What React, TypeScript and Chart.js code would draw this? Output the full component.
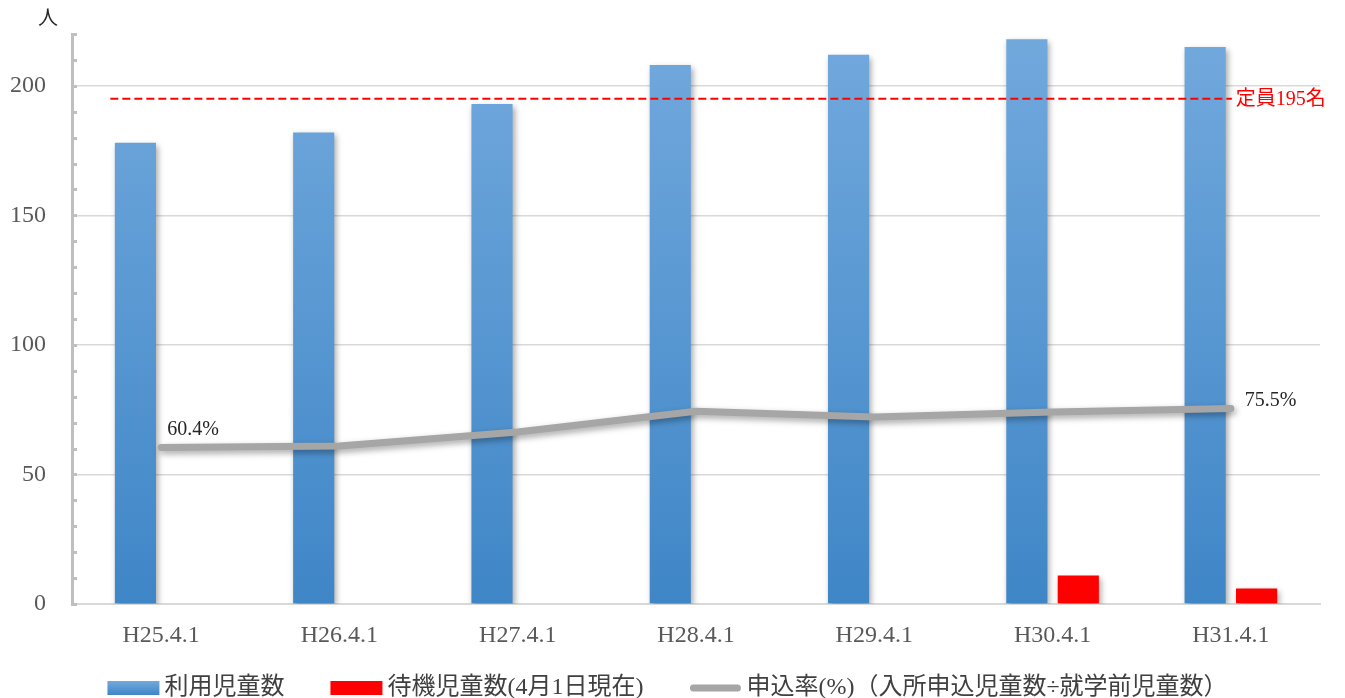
import React, { useEffect, useRef } from 'react';
import { Chart, registerables } from 'chart.js';

Chart.register(...registerables);

const categories = ['H25.4.1', 'H26.4.1', 'H27.4.1', 'H28.4.1', 'H29.4.1', 'H30.4.1', 'H31.4.1'];
const usedChildren = [178, 182, 193, 208, 212, 218, 215];
const waitingChildren = [null, null, null, null, null, 11, 6];
const applicationRate = [60.4, 61.0, 66.4, 74.4, 72.2, 74.1, 75.5];
const seriesNames = ['利用児童数', '待機児童数(4月1日現在)', '申込率(%)（入所申込児童数÷就学前児童数）'];
const rateLabels = ['60.4%', '', '', '', '', '', '75.5%'];
const capacityValue = 195;
const capacityLabel = '定員195名';
const yUnit = '人';
const yMax = 220;
const yStep = 10;
const yLabelStep = 50;

const FONT = "'Liberation Serif', 'Noto Sans CJK JP', serif";
const BLUE_TOP = '#72a9dd';
const BLUE_BOTTOM = '#3f86c7';
const RED = '#ff0000';
const GREY_LINE = '#a6a6a6';

function blueGradient(ctx: CanvasRenderingContext2D, top: number, bottom: number) {
  const g = ctx.createLinearGradient(0, top, 0, bottom);
  g.addColorStop(0, BLUE_TOP);
  g.addColorStop(1, BLUE_BOTTOM);
  return g;
}

const shadowPlugin = {
  id: 'shadows',
  beforeDatasetDraw(chart: any) {
    const ctx = chart.ctx;
    ctx.save();
    ctx.shadowColor = 'rgba(0,0,0,0.35)';
    ctx.shadowBlur = 6;
    ctx.shadowOffsetX = 2;
    ctx.shadowOffsetY = 3;
  },
  afterDatasetDraw(chart: any) {
    chart.ctx.restore();
  },
};

const extrasPlugin = {
  id: 'extras',
  afterDraw(chart: any) {
    const ctx = chart.ctx as CanvasRenderingContext2D;
    const area = chart.chartArea;
    const x = chart.scales.x;
    const y = chart.scales.y;

    // minor tick marks on the y axis
    ctx.save();
    ctx.strokeStyle = '#bfbfbf';
    ctx.lineWidth = 3;
    for (const t of y.ticks) {
      const py = Math.round(y.getPixelForValue(t.value)) + 0.5;
      ctx.beginPath();
      ctx.moveTo(area.left - 1, py);
      ctx.lineTo(area.left + 5, py);
      ctx.stroke();
    }
    ctx.restore();

    // unit label
    ctx.save();
    ctx.font = `20px ${FONT}`;
    ctx.fillStyle = '#262626';
    ctx.textAlign = 'center';
    ctx.textBaseline = 'middle';
    ctx.fillText(yUnit, area.left - 24, area.top - 14);
    ctx.restore();

    // capacity dashed line
    const catW = (x.getPixelForValue(1) - x.getPixelForValue(0));
    const py = y.getPixelForValue(capacityValue);
    const x0 = x.getPixelForValue(0) - catW * 0.285;
    const x1 = x.getPixelForValue(categories.length - 1) + 1;
    ctx.save();
    ctx.strokeStyle = RED;
    ctx.lineWidth = 2;
    ctx.setLineDash([8, 4]);
    ctx.beginPath();
    ctx.moveTo(x0, py);
    ctx.lineTo(x1, py);
    ctx.stroke();
    ctx.setLineDash([]);
    ctx.font = `20px ${FONT}`;
    ctx.fillStyle = RED;
    ctx.textAlign = 'left';
    ctx.textBaseline = 'middle';
    ctx.fillText(capacityLabel, x1 + 4, py + 1);
    ctx.restore();

    // rate labels
    const lineMeta = chart.getDatasetMeta(0);
    ctx.save();
    ctx.font = `20px ${FONT}`;
    ctx.fillStyle = '#262626';
    ctx.textBaseline = 'middle';
    ctx.textAlign = 'left';
    rateLabels.forEach((lbl, i) => {
      if (!lbl) return;
      const p = lineMeta.data[i];
      if (i === 0) ctx.fillText(lbl, p.x + 6, p.y - 18);
      else ctx.fillText(lbl, p.x + 14, p.y - 8);
    });
    ctx.restore();

    // legend
    ctx.save();
    ctx.font = `24px ${FONT}`;
    const boxW = 52;
    const gapBoxText = 5;
    const itemGap = 46;
    const widths = seriesNames.map((n) => boxW + gapBoxText + ctx.measureText(n).width);
    const total = widths.reduce((a, b) => a + b, 0) + itemGap * (widths.length - 1);
    let cx = chart.width / 2 - total / 2 - 5;
    const cy = 688;
    seriesNames.forEach((name, i) => {
      if (i === 0) {
        ctx.fillStyle = blueGradient(ctx, cy - 7, cy + 7);
        ctx.fillRect(cx, cy - 7, boxW, 14);
      } else if (i === 1) {
        ctx.fillStyle = RED;
        ctx.fillRect(cx, cy - 7, boxW, 14);
      } else {
        ctx.strokeStyle = GREY_LINE;
        ctx.lineWidth = 7;
        ctx.lineCap = 'round';
        ctx.beginPath();
        ctx.moveTo(cx + 4, cy);
        ctx.lineTo(cx + boxW - 4, cy);
        ctx.stroke();
      }
      ctx.fillStyle = '#404040';
      ctx.textAlign = 'left';
      ctx.textBaseline = 'middle';
      ctx.fillText(name, cx + boxW + gapBoxText, cy);
      cx += widths[i] + itemGap;
    });
    ctx.restore();
  },
};

export default function App() {
  const ref = useRef<HTMLCanvasElement | null>(null);

  useEffect(() => {
    if (!ref.current) return;
    const chart = new Chart(ref.current, {
      type: 'bar',
      data: {
        labels: categories,
        datasets: [
          {
            type: 'line',
            label: seriesNames[2],
            data: applicationRate,
            borderColor: GREY_LINE,
            backgroundColor: GREY_LINE,
            borderWidth: 7,
            borderCapStyle: 'round',
            borderJoinStyle: 'round',
            pointRadius: 0,
            tension: 0,
            order: 0,
          } as any,
          {
            type: 'bar',
            label: seriesNames[0],
            data: usedChildren,
            backgroundColor: (c: any) => {
              const a = c.chart.chartArea;
              if (!a) return BLUE_BOTTOM;
              return blueGradient(c.chart.ctx, a.top, a.bottom);
            },
            borderWidth: 0,
            categoryPercentage: 0.577,
            barPercentage: 0.8,
            order: 1,
          },
          {
            type: 'bar',
            label: seriesNames[1],
            data: waitingChildren,
            backgroundColor: RED,
            borderWidth: 0,
            categoryPercentage: 0.577,
            barPercentage: 0.8,
            order: 1,
          },
        ],
      },
      options: {
        animation: false,
        responsive: true,
        maintainAspectRatio: false,
        layout: { padding: { top: 34, right: 25, bottom: 42, left: 0 } },
        plugins: {
          legend: { display: false },
          tooltip: { enabled: false },
        },
        scales: {
          x: {
            grid: { display: false, drawTicks: false },
            border: { display: true, color: '#d9d9d9', width: 2 },
            ticks: {
              color: '#595959',
              font: { family: FONT, size: 24 },
              padding: 17,
              maxRotation: 0,
            },
            afterFit: (s: any) => {
              s.height = 52;
              s.paddingLeft = 0;
              s.paddingRight = 0;
            },
          },
          y: {
            min: 0,
            max: yMax,
            grid: {
              drawTicks: false,
              color: (c: any) => (c.tick && c.tick.value > 0 && c.tick.value % yLabelStep === 0 ? '#d9d9d9' : 'rgba(0,0,0,0)'),
              lineWidth: 1.5,
            },
            border: { display: true, color: '#bfbfbf', width: 3 },
            ticks: {
              stepSize: yStep,
              color: '#595959',
              font: { family: FONT, size: 24 },
              padding: 26,
              autoSkip: false,
              callback: (v: any) => (Number(v) % yLabelStep === 0 ? String(v) : ''),
            },
            afterFit: (s: any) => {
              s.width = 72;
              s.paddingTop = 0;
              s.paddingBottom = 0;
            },
          },
        },
      },
      plugins: [shadowPlugin, extrasPlugin],
    });
    return () => chart.destroy();
  }, []);

  return (
    <div style={{ position: 'fixed', left: 0, top: 0, width: 1345, height: 698, background: '#fff' }}>
      <canvas ref={ref} />
    </div>
  );
}
